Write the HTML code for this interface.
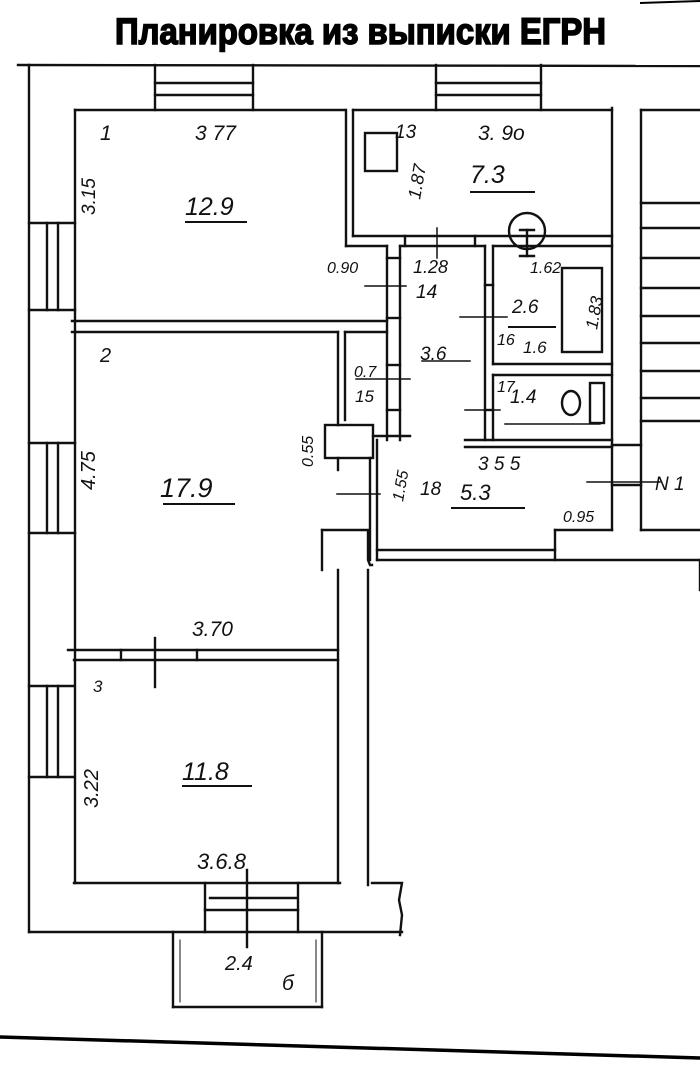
<!DOCTYPE html>
<html><head><meta charset="utf-8"><style>
html,body{margin:0;padding:0;background:#fff;}
svg{display:block}
.h{font-family:"Liberation Sans","DejaVu Sans",sans-serif;font-style:italic;fill:#111}
</style></head><body>
<svg width="700" height="1076" viewBox="0 0 700 1076" xmlns="http://www.w3.org/2000/svg">
<rect width="700" height="1076" fill="#fff"/>
<text x="115" y="44" font-family="Liberation Sans Narrow, Liberation Sans, sans-serif" font-weight="bold" font-size="37" textLength="491" lengthAdjust="spacingAndGlyphs" fill="#000" stroke="#000" stroke-width="1.6">Планировка из выписки ЕГРН</text>
<line x1="640" y1="3" x2="700" y2="1" stroke="#000" stroke-width="2"/>
<g stroke="#111" stroke-width="2.4" fill="none" stroke-linecap="square">
<line x1="18" y1="65" x2="700" y2="66"/>
<line x1="29" y1="65" x2="29" y2="932"/>
<line x1="29" y1="932" x2="402" y2="932"/>
<path d="M372 883 L402 883 L399 900 L402 915 L400 935"/>
<line x1="155" y1="65" x2="155" y2="110"/><line x1="253" y1="65" x2="253" y2="110"/>
<line x1="155" y1="83" x2="253" y2="83"/><line x1="155" y1="95" x2="253" y2="95"/>
<line x1="436" y1="65" x2="436" y2="110"/><line x1="541" y1="65" x2="541" y2="110"/>
<line x1="436" y1="83" x2="541" y2="83"/><line x1="436" y1="95" x2="541" y2="95"/>
<line x1="29" y1="223" x2="75" y2="223"/><line x1="29" y1="310" x2="75" y2="310"/>
<line x1="47" y1="223" x2="47" y2="310"/><line x1="58" y1="223" x2="58" y2="310"/>
<line x1="29" y1="443" x2="75" y2="443"/><line x1="29" y1="533" x2="75" y2="533"/>
<line x1="47" y1="443" x2="47" y2="533"/><line x1="58" y1="443" x2="58" y2="533"/>
<line x1="29" y1="686" x2="74" y2="686"/><line x1="29" y1="777" x2="74" y2="777"/>
<line x1="47" y1="686" x2="47" y2="777"/><line x1="58" y1="686" x2="58" y2="777"/>
<line x1="75" y1="110" x2="345" y2="110"/>
<line x1="75" y1="110" x2="75" y2="883"/>
<line x1="346" y1="110" x2="346" y2="246"/><line x1="353" y1="110" x2="353" y2="236"/>
<line x1="72" y1="321" x2="387" y2="321"/><line x1="72" y1="332" x2="338" y2="332"/>
<line x1="346" y1="246" x2="387" y2="246"/>
<line x1="353" y1="110" x2="612" y2="110"/>
<line x1="612" y1="108" x2="612" y2="530"/>
<line x1="353" y1="236" x2="612" y2="236"/>
<rect x="365" y="133" width="32" height="38"/>
<line x1="400" y1="246" x2="485" y2="246"/><line x1="493" y1="246" x2="612" y2="246"/>
<line x1="405" y1="236" x2="405" y2="246"/><line x1="475" y1="236" x2="475" y2="246"/>
<circle cx="527" cy="231" r="18"/>
<line x1="520" y1="230" x2="534" y2="230"/><line x1="527" y1="230" x2="527" y2="256"/><line x1="520" y1="256" x2="534" y2="256"/>
<line x1="387" y1="246" x2="387" y2="440"/><line x1="400" y1="246" x2="400" y2="440"/>
<line x1="387" y1="258" x2="400" y2="258"/><line x1="387" y1="318" x2="400" y2="318"/><line x1="387" y1="365" x2="400" y2="365"/><line x1="387" y1="410" x2="400" y2="410"/>
<line x1="373" y1="436" x2="410" y2="436"/>
<line x1="485" y1="246" x2="485" y2="440"/><line x1="493" y1="246" x2="493" y2="364"/>
<line x1="493" y1="364" x2="612" y2="364"/><line x1="493" y1="375" x2="612" y2="375"/>
<line x1="493" y1="375" x2="493" y2="440"/>
<line x1="485" y1="285" x2="493" y2="285"/><line x1="485" y1="410" x2="493" y2="410"/>
<line x1="465" y1="440" x2="612" y2="440"/><line x1="465" y1="447" x2="612" y2="447"/>
<rect x="562" y="268" width="40" height="84"/>
<ellipse cx="571" cy="403" rx="9" ry="12"/>
<rect x="590" y="383" width="14" height="40"/>
<line x1="338" y1="332" x2="338" y2="425"/><line x1="345" y1="332" x2="345" y2="420"/>
<line x1="345" y1="332" x2="387" y2="332"/>
<rect x="325" y="425" width="48" height="33"/>
<line x1="370" y1="458" x2="370" y2="560"/><line x1="377" y1="440" x2="377" y2="560"/>
<path d="M338 458 L338 470"/>
<path d="M322 530 L368 530 L368 560 L370 565 L372 565"/>
<line x1="322" y1="530" x2="322" y2="570"/>
<line x1="338" y1="570" x2="338" y2="883"/>
<line x1="368" y1="570" x2="368" y2="885"/>
<line x1="377" y1="550" x2="555" y2="550"/><line x1="377" y1="560" x2="700" y2="560"/>
<line x1="555" y1="530" x2="555" y2="560"/>
<line x1="555" y1="530" x2="612" y2="530"/>
<line x1="612" y1="445" x2="641" y2="445"/>
<line x1="612" y1="485" x2="641" y2="485"/>
<line x1="641" y1="110" x2="641" y2="530"/><line x1="641" y1="110" x2="700" y2="110"/>
<line x1="641" y1="203" x2="700" y2="203"/><line x1="641" y1="228" x2="700" y2="228"/>
<line x1="641" y1="258" x2="700" y2="258"/><line x1="641" y1="288" x2="700" y2="288"/>
<line x1="641" y1="316" x2="700" y2="316"/><line x1="641" y1="343" x2="700" y2="343"/>
<line x1="641" y1="371" x2="700" y2="371"/><line x1="641" y1="398" x2="700" y2="398"/>
<line x1="641" y1="421" x2="700" y2="421"/><line x1="641" y1="530" x2="700" y2="530"/>
<line x1="700" y1="560" x2="700" y2="590"/>
<line x1="68" y1="650" x2="338" y2="650"/><line x1="74" y1="660" x2="338" y2="660"/>
<line x1="121" y1="650" x2="121" y2="660"/><line x1="197" y1="650" x2="197" y2="660"/>
<line x1="155" y1="638" x2="155" y2="687"/>
<line x1="74" y1="883" x2="340" y2="883"/>
<line x1="205" y1="883" x2="205" y2="932"/><line x1="298" y1="883" x2="298" y2="932"/>
<line x1="210" y1="898" x2="296" y2="898"/><line x1="205" y1="910" x2="298" y2="910"/>
<line x1="247" y1="870" x2="247" y2="947"/>
<line x1="173" y1="932" x2="173" y2="1007"/><line x1="322" y1="932" x2="322" y2="1007"/>
<line x1="173" y1="1007" x2="322" y2="1007"/>
<line x1="180" y1="940" x2="180" y2="1002" stroke-width="1"/><line x1="316" y1="940" x2="316" y2="1002" stroke-width="1"/>
<line x1="365" y1="286" x2="406" y2="286" stroke-width="1.5"/>
<line x1="460" y1="317" x2="507" y2="317" stroke-width="1.5"/>
<line x1="422" y1="361" x2="470" y2="361" stroke-width="1.5"/>
<line x1="356" y1="379" x2="410" y2="379" stroke-width="1.5"/>
<line x1="465" y1="410" x2="500" y2="410" stroke-width="1.5"/>
<line x1="505" y1="424" x2="600" y2="424" stroke-width="1.5"/>
<line x1="337" y1="494" x2="380" y2="494" stroke-width="1.5"/>
<line x1="587" y1="482" x2="660" y2="482" stroke-width="1.5"/>
<line x1="437" y1="228" x2="437" y2="258" stroke-width="1.5"/>
</g>
<line x1="0" y1="1037" x2="700" y2="1058" stroke="#000" stroke-width="3.5"/>
<g class="h" font-size="21">
<text x="100" y="140">1</text><text x="195" y="140">3 77</text>
<text x="395" y="138" font-size="19">13</text><text x="478" y="140">3. 9o</text>
<text x="185" y="215" font-size="25">12.9</text><text x="470" y="183" font-size="25">7.3</text>
<text x="95" y="215" transform="rotate(-90 95 215)" font-size="19">3.15</text>
<text x="420" y="200" transform="rotate(-80 420 200)" font-size="18">1.87</text>
<text x="327" y="273" font-size="16">0.90</text><text x="413" y="273" font-size="18">1.28</text>
<text x="530" y="273" font-size="16">1.62</text>
<text x="416" y="298" font-size="19">14</text>
<text x="512" y="313" font-size="19">2.6</text>
<text x="597" y="330" transform="rotate(-80 597 330)" font-size="17">1.83</text>
<text x="497" y="345" font-size="16">16</text><text x="523" y="353" font-size="17">1.6</text>
<text x="420" y="360" font-size="19">3.6</text>
<text x="354" y="377" font-size="16">0.7</text><text x="355" y="402" font-size="17">15</text>
<text x="497" y="392" font-size="16">17</text><text x="510" y="403" font-size="19">1.4</text>
<text x="100" y="362" font-size="20">2</text>
<text x="160" y="497" font-size="27">17.9</text>
<text x="95" y="490" transform="rotate(-90 95 490)" font-size="20">4.75</text>
<text x="313" y="467" transform="rotate(-90 313 467)" font-size="16">0.55</text>
<text x="403" y="502" transform="rotate(-80 403 502)" font-size="16">1.55</text>
<text x="420" y="495" font-size="19">18</text>
<text x="478" y="470" font-size="19">3 5 5</text>
<text x="460" y="500" font-size="22">5.3</text>
<text x="563" y="522" font-size="16">0.95</text>
<text x="655" y="490" font-size="19">N 1</text>
<text x="192" y="636" font-size="21">3.70</text>
<text x="93" y="692" font-size="17">3</text>
<text x="182" y="780" font-size="25">11.8</text>
<text x="98" y="808" transform="rotate(-90 98 808)" font-size="20">3.22</text>
<text x="197" y="869" font-size="22">3.6.8</text>
<text x="225" y="970" font-size="20">2.4</text>
<text x="282" y="990" font-size="21">б</text>
</g>
<g stroke="#111" stroke-width="2">
<line x1="185" y1="222" x2="247" y2="222"/><line x1="470" y1="192" x2="535" y2="192"/>
<line x1="163" y1="504" x2="235" y2="504"/><line x1="451" y1="508" x2="525" y2="508"/>
<line x1="182" y1="786" x2="252" y2="786"/><line x1="508" y1="327" x2="556" y2="327"/>
</g>
</svg>
</body></html>
